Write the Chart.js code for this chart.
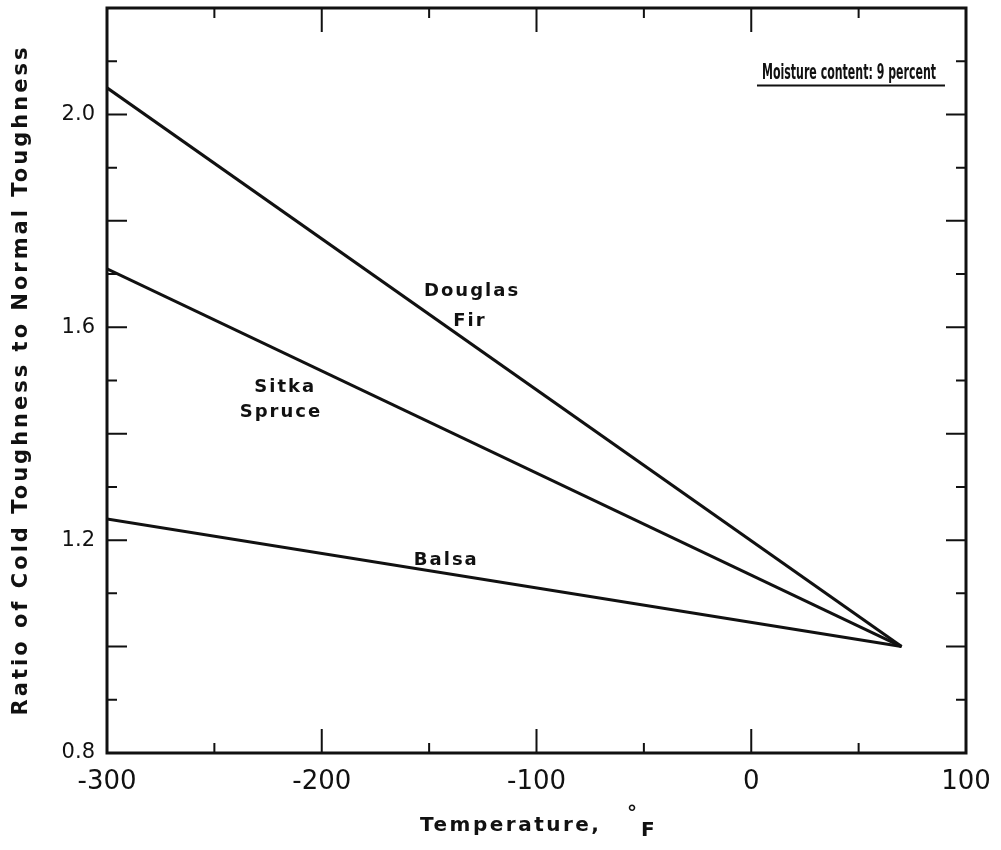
<!DOCTYPE html>
<html>
<head>
<meta charset="utf-8">
<script src="https://cdn.jsdelivr.net/npm/chart.js@4.4.1/dist/chart.umd.min.js"></script>
<style>
  body { margin: 0; background: #fff; }
  #wrap { width: 1001px; height: 850px; }
</style>
</head>
<body>
<div id="wrap"><canvas id="mycanvas" width="1001" height="850"></canvas></div>
<script>
// temperatures (deg F) at the ends of each line
var temps = [-300, 70];
var douglasFir = [2.05, 1.0];
var sitkaSpruce = [1.71, 1.0];
var balsa = [1.24, 1.0];

var xTicks = [-300, -250, -200, -150, -100, -50, 0, 50, 100];
var xTickLabels = ['-300', '-200', '-100', '0', '100'];
var yTicks = [0.8, 0.9, 1.0, 1.1, 1.2, 1.3, 1.4, 1.5, 1.6, 1.7, 1.8, 1.9, 2.0, 2.1, 2.2];
var yTickLabels = ['0.8', '1.2', '1.6', '2.0'];

var FONT = '"DejaVu Sans", "Noto Sans", sans-serif';
var INK = '#111';

function pts(ys) {
  var out = [];
  for (var i in temps) out.push({x: temps[i], y: ys[i]});
  return out;
}

function series(label, ys) {
  return {
    label: label,
    data: pts(ys),
    showLine: true,
    borderColor: INK,
    borderWidth: 3,
    pointRadius: 0,
    fill: false,
    tension: 0
  };
}

// frame, inward ticks, titles and the text on the plot
var decorate = {
  id: 'decorate',
  afterDraw: function(chart) {
    var c = chart.ctx, a = chart.chartArea;
    var xs = chart.scales.x, ys = chart.scales.y;
    c.save();
    c.strokeStyle = INK;
    c.lineWidth = 3;
    c.strokeRect(a.left, a.top, a.right - a.left, a.bottom - a.top);

    c.lineWidth = 2;
    xTicks.forEach(function(v) {
      var px = xs.getPixelForValue(v);
      var len = (v % 100 === 0) ? 24 : 10;
      c.beginPath();
      c.moveTo(px, a.bottom); c.lineTo(px, a.bottom - len);
      c.moveTo(px, a.top); c.lineTo(px, a.top + len);
      c.stroke();
    });
    yTicks.forEach(function(v) {
      var py = ys.getPixelForValue(v);
      var major = Math.round(v * 10) % 2 === 0;
      var len = major ? 20 : 10;
      c.beginPath();
      c.moveTo(a.left, py); c.lineTo(a.left + len, py);
      c.moveTo(a.right, py); c.lineTo(a.right - len, py);
      c.stroke();
    });

    c.fillStyle = INK;
    c.font = 'bold 18px ' + FONT;
    c.letterSpacing = '2px';
    c.textAlign = 'center';
    c.textBaseline = 'middle';
    c.fillText('Douglas', xs.getPixelForValue(-130), ys.getPixelForValue(1.667));
    c.fillText('Fir', xs.getPixelForValue(-131), ys.getPixelForValue(1.611));
    c.fillText('Sitka', xs.getPixelForValue(-217), ys.getPixelForValue(1.488));
    c.fillText('Spruce', xs.getPixelForValue(-219), ys.getPixelForValue(1.441));
    c.fillText('Balsa', xs.getPixelForValue(-142), ys.getPixelForValue(1.163));

    // note in the top right corner, underlined
    c.letterSpacing = '0px';
    c.font = 'bold 21px ' + FONT;
    c.textAlign = 'left';
    var mx = xs.getPixelForValue(5), my = ys.getPixelForValue(2.077);
    c.fillText('Moisture content: 9 percent', mx, my, 174);
    c.lineWidth = 2;
    c.beginPath();
    c.moveTo(mx - 5, my + 12); c.lineTo(mx + 183, my + 12);
    c.stroke();

    // x title
    c.letterSpacing = '2.5px';
    c.font = 'bold 20px ' + FONT;
    c.textAlign = 'left';
    c.fillText('Temperature,', 420, 826);
    c.fillText('°', 627, 814);
    c.fillText('F', 641, 831);

    // y title
    c.translate(22, 380);
    c.rotate(-Math.PI / 2);
    c.textAlign = 'center';
    c.letterSpacing = '3px';
    c.font = 'bold 21px ' + FONT;
    c.fillText('Ratio of Cold Toughness to Normal Toughness', 0, 0);
    c.restore();
  }
};

var ctx = document.getElementById('mycanvas');

var chart = new Chart(ctx, {
  type: 'scatter',
  data: {
    datasets: [
      series('Douglas Fir', douglasFir),
      series('Sitka Spruce', sitkaSpruce),
      series('Balsa', balsa)
    ]
  },
  options: {
    responsive: false,
    animation: false,
    layout: { padding: { top: 8, right: 35, left: 0, bottom: 0 } },
    plugins: { legend: { display: false }, tooltip: { enabled: false } },
    scales: {
      x: {
        type: 'linear',
        min: -300, max: 100,
        afterFit: function(s) { s.height = 97; s.paddingLeft = 0; s.paddingRight = 0; },
        grid: { display: false },
        border: { display: false },
        ticks: {
          stepSize: 100,
          padding: 6,
          color: INK,
          font: { family: FONT, size: 26 },
          maxRotation: 0,
          callback: function(v) {
            var s = String(v);
            return xTickLabels.indexOf(s) >= 0 ? s : '';
          }
        }
      },
      y: {
        type: 'linear',
        min: 0.8, max: 2.2,
        afterFit: function(s) { s.width = 107; s.paddingTop = 0; s.paddingBottom = 0; },
        grid: { display: false },
        border: { display: false },
        ticks: {
          stepSize: 0.1,
          padding: 4,
          autoSkip: false,
          color: INK,
          font: { family: FONT, size: 21 },
          callback: function(v) {
            var s = (Math.round(v * 10) / 10).toFixed(1);
            return yTickLabels.indexOf(s) >= 0 ? s : '';
          }
        }
      }
    }
  },
  plugins: [decorate]
});
</script>
</body>
</html>
